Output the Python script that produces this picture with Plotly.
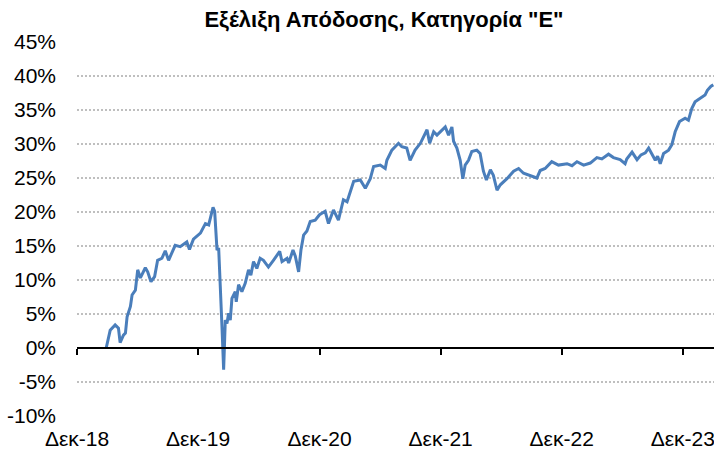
import plotly.graph_objects as go

# ---- data ----
dates = [
    "2019-03-29", "2019-04-10", "2019-04-25", "2019-05-05", "2019-05-10", "2019-05-20",
    "2019-05-26", "2019-05-31", "2019-06-10", "2019-06-15", "2019-06-25", "2019-07-02",
    "2019-07-10", "2019-07-25", "2019-08-01", "2019-08-11", "2019-08-22", "2019-08-31",
    "2019-09-13", "2019-09-23", "2019-10-03", "2019-10-23", "2019-11-07", "2019-11-27",
    "2019-12-05", "2019-12-17", "2020-01-07", "2020-01-22", "2020-02-01", "2020-02-14",
    "2020-02-19", "2020-02-26", "2020-03-02", "2020-03-05", "2020-03-10", "2020-03-12",
    "2020-03-17", "2020-03-22", "2020-03-27", "2020-04-01", "2020-04-06", "2020-04-11",
    "2020-04-21", "2020-04-24", "2020-05-01", "2020-05-11", "2020-05-21", "2020-05-31",
    "2020-06-07", "2020-06-15", "2020-06-25", "2020-07-05", "2020-07-15", "2020-07-30",
    "2020-08-14", "2020-09-02", "2020-09-09", "2020-09-24", "2020-09-29", "2020-10-12",
    "2020-10-19", "2020-10-29", "2020-11-05", "2020-11-13", "2020-11-23", "2020-12-03",
    "2020-12-18", "2020-12-31", "2021-01-17", "2021-01-27", "2021-02-11", "2021-02-26",
    "2021-03-13", "2021-03-24", "2021-04-13", "2021-05-03", "2021-05-18", "2021-06-02",
    "2021-06-12", "2021-07-02", "2021-07-17", "2021-07-22", "2021-08-06", "2021-08-26",
    "2021-09-05", "2021-09-20", "2021-09-30", "2021-10-15", "2021-10-31", "2021-11-20",
    "2021-11-28", "2021-12-10", "2021-12-20", "2022-01-04", "2022-01-14", "2022-01-24",
    "2022-02-03", "2022-02-08", "2022-02-18", "2022-02-28", "2022-03-08", "2022-03-15",
    "2022-03-25", "2022-04-04", "2022-04-19", "2022-04-29", "2022-05-09", "2022-05-18",
    "2022-05-30", "2022-06-08", "2022-06-19", "2022-06-29", "2022-07-19", "2022-08-08",
    "2022-08-23", "2022-09-07", "2022-09-27", "2022-10-17", "2022-10-27", "2022-11-11",
    "2022-12-01", "2022-12-21", "2023-01-16", "2023-01-31", "2023-02-15", "2023-03-07",
    "2023-03-27", "2023-04-16", "2023-05-01", "2023-05-21", "2023-06-05", "2023-06-25",
    "2023-07-10", "2023-07-15", "2023-07-31", "2023-08-15", "2023-08-27", "2023-09-09",
    "2023-09-19", "2023-09-29", "2023-10-09", "2023-10-16", "2023-10-24", "2023-11-03",
    "2023-11-18", "2023-11-28", "2023-12-08", "2023-12-21", "2024-01-07", "2024-01-17",
    "2024-01-27", "2024-02-06", "2024-02-21", "2024-03-07", "2024-03-14", "2024-03-25",
    "2024-04-01",
]
returns_pct = [
    0.0, 2.6, 3.4, 2.9, 0.8, 1.9,
    2.2, 4.6, 6.1, 7.8, 8.5, 11.5,
    10.3, 11.8, 11.2, 9.75, 10.5, 12.9,
    13.2, 14.3, 12.9, 15.1, 14.9, 15.6,
    14.5, 16.0, 16.9, 18.3, 18.1, 20.7,
    20.1, 14.4, 14.7, 11.8, 6.1, 3.1,
    -3.2, 4.1, 3.6, 5.1, 4.1, 7.3,
    8.3, 6.8, 9.3, 8.3, 9.5, 11.5,
    10.7, 12.7, 11.7, 13.2, 12.9, 11.9,
    12.9, 14.2, 12.7, 13.2, 12.5, 14.4,
    13.5, 11.2, 14.4, 16.6, 17.2, 18.6,
    18.8, 19.6, 20.1, 18.3, 20.3, 18.8,
    21.8, 21.5, 24.5, 24.7, 23.5, 24.9,
    26.7, 26.9, 26.4, 27.6, 29.1, 30.1,
    29.6, 29.4, 27.6, 29.1, 30.1, 32.1,
    30.1, 31.8, 31.3, 32.1, 32.5, 31.3,
    32.5, 30.4, 29.4, 27.6, 24.9, 26.9,
    27.6, 28.9, 29.1, 28.6, 26.0, 24.7,
    26.2, 25.4, 23.2, 24.0, 24.9, 26.0,
    26.4, 25.7, 25.4, 25.0, 26.1, 26.4,
    27.4, 26.9, 27.1, 26.8, 27.4, 26.9,
    27.2, 28.0, 27.8, 28.5, 28.0, 27.7,
    27.1, 27.8, 28.8, 27.7, 28.4, 28.7,
    29.4, 28.6, 27.6, 28.2, 27.1, 28.6,
    29.1, 29.9, 31.8, 33.3, 33.8, 33.5,
    35.2, 36.2, 36.7, 37.2, 37.9, 38.5,
    38.7,
]
tick_dates = ["2018-12-31", "2019-12-31", "2020-12-31", "2021-12-31", "2022-12-31", "2023-12-31"]
tick_labels = ["Δεκ-18", "Δεκ-19", "Δεκ-20", "Δεκ-21", "Δεκ-22", "Δεκ-23"]
y_ticks = [-10, -5, 0, 5, 10, 15, 20, 25, 30, 35, 40, 45]
y_tick_labels = ["-10%", "-5%", "0%", "5%", "10%", "15%", "20%", "25%", "30%", "35%", "40%", "45%"]
title_text = 'Εξέλιξη Απόδοσης, Κατηγορία "Ε"'

x_range = ["2018-12-31", "2024-04-03"]
y_range = [-10, 45]
FONT = "Liberation Sans, Arial, sans-serif"
W, H = 714, 450

fig = go.Figure()
fig.add_trace(go.Scatter(
    x=dates, y=returns_pct, mode="lines",
    line=dict(color="#4A7EBB", width=3),
    showlegend=False, hoverinfo="skip",
))
# invisible helper trace so the zero-level axis (x2) is drawn
fig.add_trace(go.Scatter(
    x=dates[:1], y=returns_pct[:1], xaxis="x2", mode="markers",
    marker=dict(opacity=0), showlegend=False, hoverinfo="skip",
))

fig.update_layout(
    width=W, height=H,
    paper_bgcolor="white", plot_bgcolor="white",
    margin=dict(l=77, r=0, t=42, b=34, autoexpand=False),
    font=dict(family=FONT, color="black", size=21),
    title=dict(text="<b>" + title_text + "</b>", x=384 / W, xanchor="center",
               xref="container", y=1 - 19 / H, yanchor="middle", yref="container",
               font=dict(family=FONT, size=22, color="black")),
    xaxis=dict(
        range=x_range, tickvals=tick_dates, ticktext=tick_labels,
        showgrid=False, zeroline=False, showline=False, ticks="",
        ticklabelstandoff=8, ticklabeloverflow="allow", tickfont=dict(size=21),
    ),
    xaxis2=dict(
        range=x_range, tickvals=tick_dates, overlaying="x", anchor="free",
        position=(0 - y_range[0]) / (y_range[1] - y_range[0]), side="bottom",
        showline=True, linecolor="black", linewidth=2,
        ticks="outside", ticklen=6, tickwidth=1.5, tickcolor="black",
        showticklabels=False, showgrid=False, zeroline=False,
    ),
    yaxis=dict(
        range=y_range, tickvals=y_ticks, ticktext=y_tick_labels,
        showgrid=True, gridcolor="#BFBFBF", griddash="2px,2px", gridwidth=1.5,
        zeroline=False, showline=False, ticks="", ticklabelstandoff=20,
        tickfont=dict(size=21),
    ),
)

fig.write_html("out.html",
               config={"displayModeBar": False},
               post_script="document.body.style.margin='0';document.body.style.overflow='hidden';")
